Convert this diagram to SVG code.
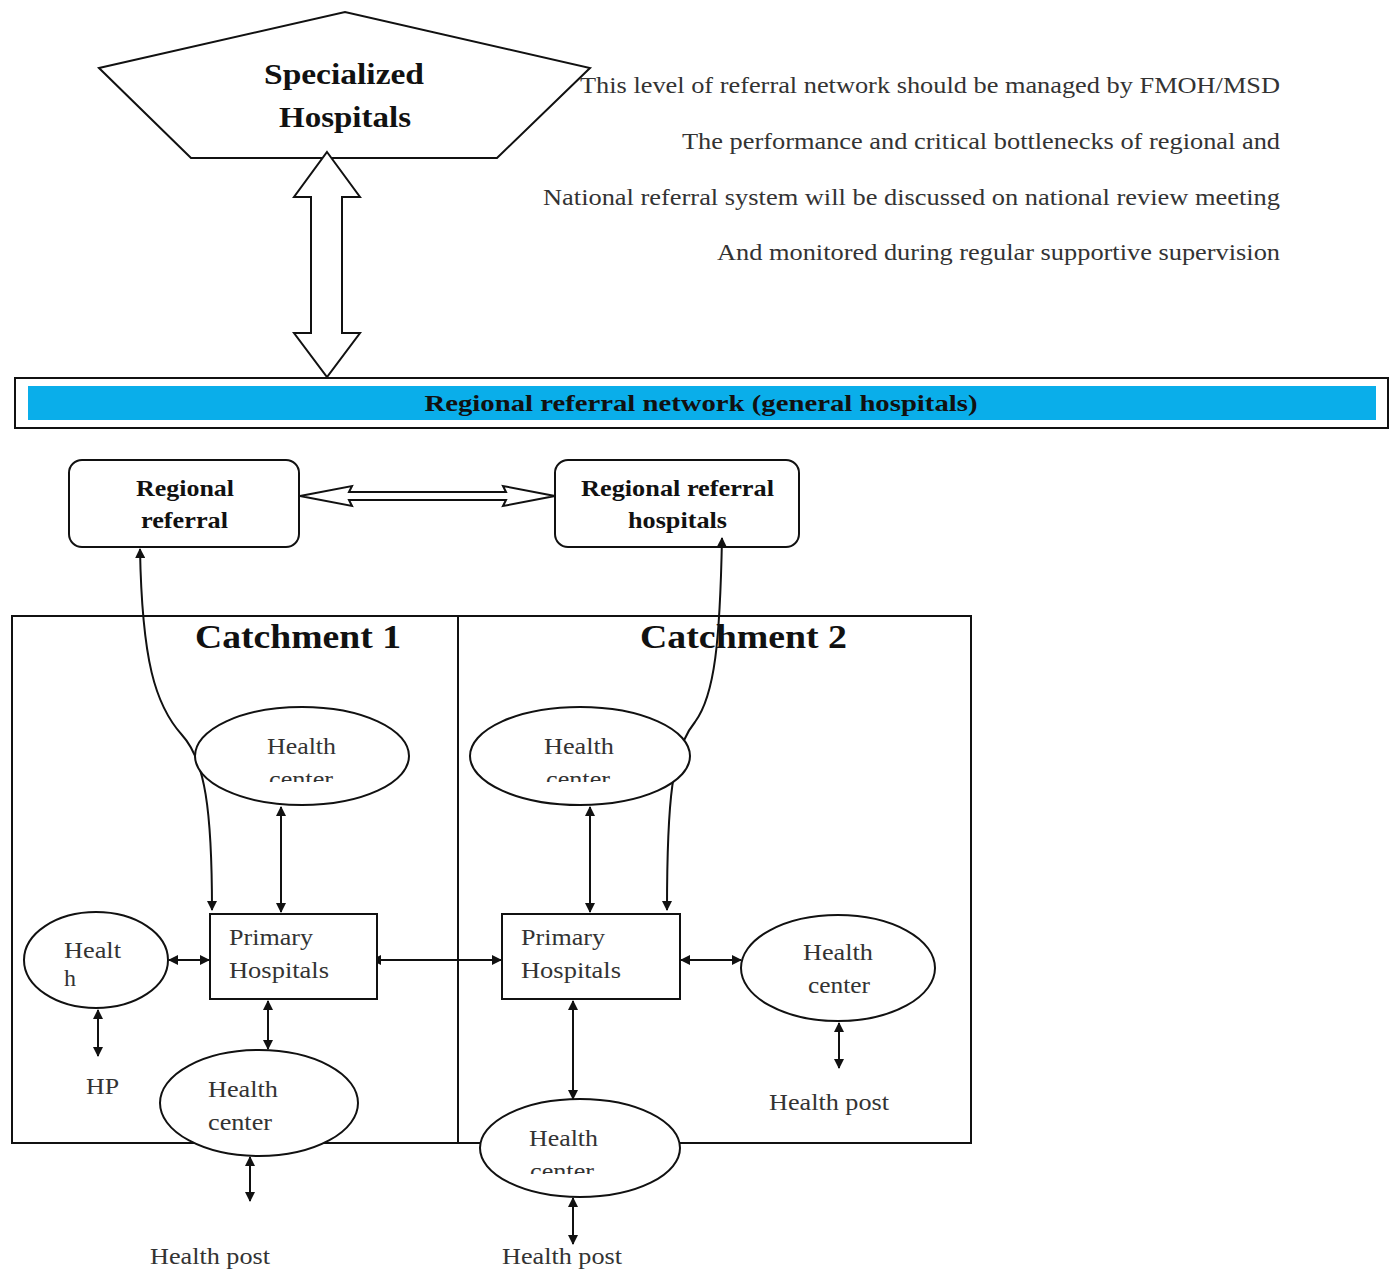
<svg xmlns="http://www.w3.org/2000/svg" width="1392" height="1271" viewBox="0 0 1392 1271">
<style>
.s{fill:#fff;stroke:#111;stroke-width:2}
.t{font-family:"Liberation Serif","Times New Roman",serif;font-size:24px;fill:#333}
.b{font-family:"Liberation Serif","Times New Roman",serif;font-weight:bold;fill:#111}
.c{fill:none;stroke:#111;stroke-width:2}
</style>
<defs>
<marker id="ah" viewBox="0 0 10 10" refX="9" refY="5" markerWidth="10" markerHeight="10" markerUnits="userSpaceOnUse" orient="auto-start-reverse"><path d="M0,0 L10,5 L0,10 Z" fill="#111"/></marker>
<clipPath id="cl1"><rect x="190" y="700" width="230" height="82"/></clipPath>
<clipPath id="cl2"><rect x="465" y="700" width="230" height="82"/></clipPath>
<clipPath id="cl3"><rect x="475" y="1095" width="210" height="79"/></clipPath>
</defs>

<g id="specialized">
<polygon class="s" points="99,68 345,12 590,68 497,158 191,158"/>
<text class="b" x="264" y="84" font-size="30" textLength="160" lengthAdjust="spacingAndGlyphs">Specialized</text>
<text class="b" x="279" y="127" font-size="30" textLength="132" lengthAdjust="spacingAndGlyphs">Hospitals</text>
</g>

<g id="note">
<text class="t" x="580" y="93" textLength="700" lengthAdjust="spacingAndGlyphs">This level of referral network should be managed by FMOH/MSD</text>
<text class="t" x="682" y="149" textLength="598" lengthAdjust="spacingAndGlyphs">The performance and critical bottlenecks of regional and</text>
<text class="t" x="543" y="205" textLength="737" lengthAdjust="spacingAndGlyphs">National referral system will be discussed on national review meeting</text>
<text class="t" x="717" y="260" textLength="563" lengthAdjust="spacingAndGlyphs">And monitored during regular supportive supervision</text>
</g>

<g id="regional-network">
<rect x="15" y="378" width="1373" height="50" fill="#fff" stroke="#111" stroke-width="2"/>
<rect x="28" y="386" width="1348" height="34" fill="#0aaeea"/>
<text class="b" x="701" y="411" font-size="23" text-anchor="middle" fill="#0b1f45" textLength="553" lengthAdjust="spacingAndGlyphs">Regional referral network (general hospitals)</text>
</g>

<g id="regional-referral">
<rect class="s" x="69" y="460" width="230" height="87" rx="13"/>
<text class="b" x="136" y="496" font-size="23" textLength="98" lengthAdjust="spacingAndGlyphs">Regional</text>
<text class="b" x="141" y="528" font-size="23" textLength="87" lengthAdjust="spacingAndGlyphs">referral</text>
</g>

<g id="regional-referral-hospitals">
<rect class="s" x="555" y="460" width="244" height="87" rx="13"/>
<text class="b" x="581" y="496" font-size="23" textLength="193" lengthAdjust="spacingAndGlyphs">Regional referral</text>
<text class="b" x="628" y="528" font-size="23" textLength="99" lengthAdjust="spacingAndGlyphs">hospitals</text>
</g>

<g id="catchments">
<rect x="12" y="616" width="959" height="527" fill="none" stroke="#111" stroke-width="2"/>
<line x1="458" y1="616" x2="458" y2="1143" stroke="#111" stroke-width="2"/>
<text class="b" x="195" y="648" font-size="34" textLength="206" lengthAdjust="spacingAndGlyphs">Catchment 1</text>
<text class="b" x="640" y="648" font-size="34" textLength="207" lengthAdjust="spacingAndGlyphs">Catchment 2</text>
</g>

<g id="connectors">
<path d="M327,152 L360,197 L342,197 L342,333 L360,333 L327,377 L294,333 L311,333 L311,197 L294,197 Z" fill="#fff" stroke="#111" stroke-width="2"/>
<path d="M300,496 L352,486 L349,492 L506,492 L503,486 L555,496 L503,506 L506,500 L349,500 L352,506 Z" fill="#fff" stroke="#111" stroke-width="2"/>
<path class="c" d="M212,910 C212,810 205,760 182,735 C155,705 142,660 140,549" marker-start="url(#ah)" marker-end="url(#ah)"/>
<path class="c" d="M667,910 C667,800 672,750 695,722 C715,695 720,640 722,538" marker-start="url(#ah)" marker-end="url(#ah)"/>
<line class="c" x1="281" y1="807" x2="281" y2="912" marker-start="url(#ah)" marker-end="url(#ah)"/>
<line class="c" x1="169" y1="960" x2="209" y2="960" marker-start="url(#ah)" marker-end="url(#ah)"/>
<line class="c" x1="372" y1="960" x2="501" y2="960" marker-start="url(#ah)" marker-end="url(#ah)"/>
<line class="c" x1="98" y1="1010" x2="98" y2="1056" marker-start="url(#ah)" marker-end="url(#ah)"/>
<line class="c" x1="268" y1="1001" x2="268" y2="1049" marker-start="url(#ah)" marker-end="url(#ah)"/>
<line class="c" x1="250" y1="1157" x2="250" y2="1201" marker-start="url(#ah)" marker-end="url(#ah)"/>
<line class="c" x1="590" y1="807" x2="590" y2="912" marker-start="url(#ah)" marker-end="url(#ah)"/>
<line class="c" x1="681" y1="960" x2="741" y2="960" marker-start="url(#ah)" marker-end="url(#ah)"/>
<line class="c" x1="839" y1="1023" x2="839" y2="1068" marker-start="url(#ah)" marker-end="url(#ah)"/>
<line class="c" x1="573" y1="1001" x2="573" y2="1099" marker-start="url(#ah)" marker-end="url(#ah)"/>
<line class="c" x1="573" y1="1198" x2="573" y2="1244" marker-start="url(#ah)" marker-end="url(#ah)"/>
</g>

<g id="hc-c1-top">
<ellipse class="s" cx="302" cy="756" rx="107" ry="49"/>
<text class="t" x="267" y="754" textLength="69" lengthAdjust="spacingAndGlyphs">Health</text>
<text class="t" x="269" y="787" textLength="64" lengthAdjust="spacingAndGlyphs" clip-path="url(#cl1)">center</text>
</g>

<g id="hc-c2-top">
<ellipse class="s" cx="580" cy="756" rx="110" ry="49"/>
<text class="t" x="544" y="754" textLength="70" lengthAdjust="spacingAndGlyphs">Health</text>
<text class="t" x="546" y="787" textLength="64" lengthAdjust="spacingAndGlyphs" clip-path="url(#cl2)">center</text>
</g>

<g id="health-c1-left">
<ellipse class="s" cx="96" cy="960" rx="72" ry="48"/>
<text class="t" x="64" y="958" textLength="57" lengthAdjust="spacingAndGlyphs">Healt</text>
<text class="t" x="64" y="986" font-size="17">h</text>
</g>

<g id="primary-c1">
<rect class="s" x="210" y="914" width="167" height="85"/>
<text class="t" x="229" y="945" textLength="84" lengthAdjust="spacingAndGlyphs">Primary</text>
<text class="t" x="229" y="978" textLength="100" lengthAdjust="spacingAndGlyphs">Hospitals</text>
</g>

<g id="primary-c2">
<rect class="s" x="502" y="914" width="178" height="85"/>
<text class="t" x="521" y="945" textLength="84" lengthAdjust="spacingAndGlyphs">Primary</text>
<text class="t" x="521" y="978" textLength="100" lengthAdjust="spacingAndGlyphs">Hospitals</text>
</g>

<g id="hc-c2-right">
<ellipse class="s" cx="838" cy="968" rx="97" ry="53"/>
<text class="t" x="803" y="960" textLength="70" lengthAdjust="spacingAndGlyphs">Health</text>
<text class="t" x="808" y="993" textLength="62" lengthAdjust="spacingAndGlyphs">center</text>
</g>

<g id="hc-c1-bottom">
<ellipse class="s" cx="259" cy="1103" rx="99" ry="53"/>
<text class="t" x="208" y="1097" textLength="70" lengthAdjust="spacingAndGlyphs">Health</text>
<text class="t" x="208" y="1130" textLength="64" lengthAdjust="spacingAndGlyphs">center</text>
</g>

<g id="hc-c2-bottom">
<ellipse class="s" cx="580" cy="1148" rx="100" ry="49"/>
<text class="t" x="529" y="1146" textLength="69" lengthAdjust="spacingAndGlyphs">Health</text>
<text class="t" x="530" y="1179" textLength="64" lengthAdjust="spacingAndGlyphs" clip-path="url(#cl3)">center</text>
</g>

<g id="labels">
<text class="t" x="86" y="1094" textLength="33" lengthAdjust="spacingAndGlyphs">HP</text>
<text class="t" x="769" y="1110" textLength="120" lengthAdjust="spacingAndGlyphs">Health post</text>
<text class="t" x="150" y="1264" textLength="120" lengthAdjust="spacingAndGlyphs">Health post</text>
<text class="t" x="502" y="1264" textLength="120" lengthAdjust="spacingAndGlyphs">Health post</text>
</g>
</svg>
